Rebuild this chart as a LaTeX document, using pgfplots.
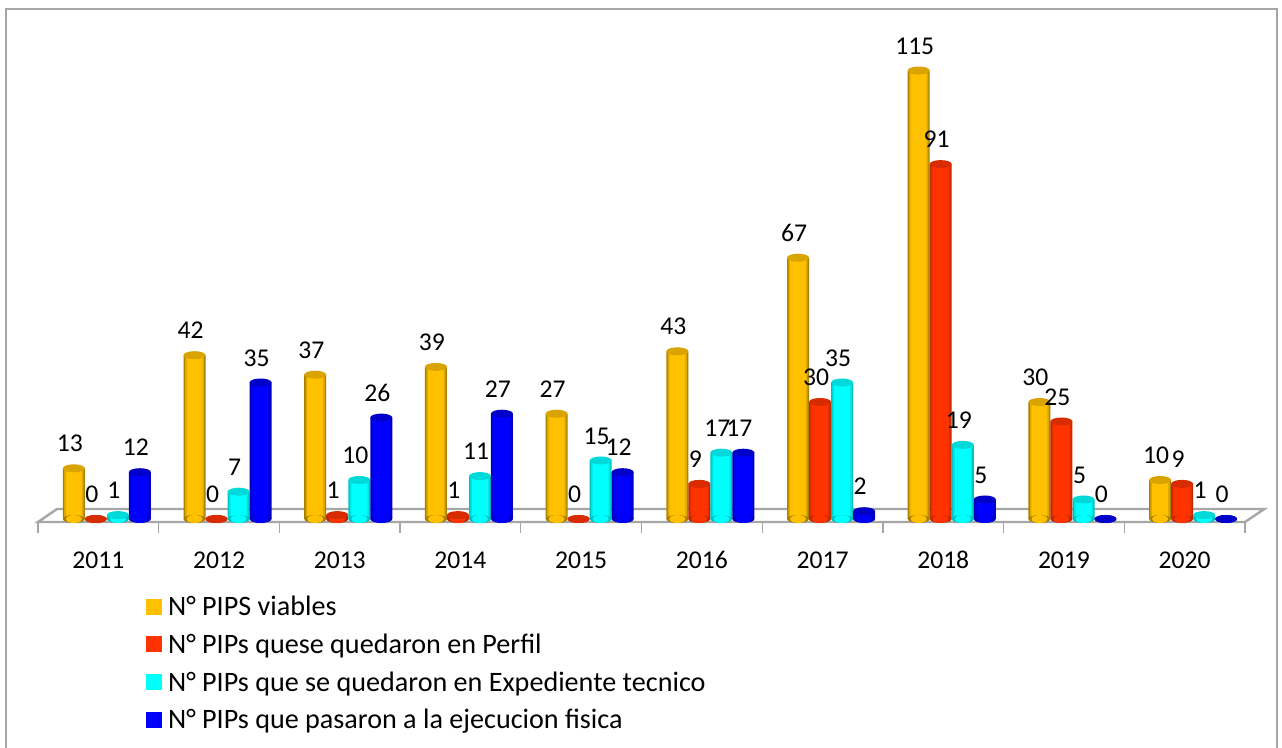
\documentclass[border=0pt]{standalone}
\usepackage{fontspec}
\setmainfont{Carlito}
\usepackage{pgfplots}
\usepackage{pgfplotstable}
\pgfplotsset{compat=1.18}
\definecolor{frameGray}{HTML}{A6A6A6}
\definecolor{mainGold}{HTML}{FFC000}
\definecolor{mainRed}{HTML}{FF3300}
\definecolor{mainCyan}{HTML}{00FFFF}
\definecolor{mainBlue}{HTML}{0000FF}
\definecolor{midGold}{HTML}{DDA600}
\definecolor{midRed}{HTML}{E62E00}
\definecolor{midCyan}{HTML}{00E4E4}
\definecolor{midBlue}{HTML}{0000E4}
\definecolor{edgeGold}{HTML}{A88000}
\definecolor{edgeRed}{HTML}{BC2A00}
\definecolor{edgeCyan}{HTML}{00C0C0}
\definecolor{edgeBlue}{HTML}{0000B8}
\definecolor{topGold}{HTML}{D9A300}
\definecolor{topRed}{HTML}{D92B00}
\definecolor{topCyan}{HTML}{00D9D9}
\definecolor{topBlue}{HTML}{0000C8}

\pgfdeclareplotmark{cyl}{\pgfpathellipse{\pgfpointorigin}{\pgfqpoint{8.25pt}{0pt}}{\pgfqpoint{0pt}{3pt}}\pgfusepathqfill}

\pgfplotstableread{
x viable perfil expediente ejecucion
0 13 0 1 12
1 42 0 7 35
2 37 1 10 26
3 39 1 11 27
4 27 0 15 12
5 43 9 17 17
6 67 30 35 2
7 115 91 19 5
8 30 25 5 0
9 10 9 1 0
}\pipsdata

% #1 column, #2 x offset, #3 colour suffix
\newcommand{\cylseries}[3]{%
  % rounded foot of the cylinder
  \addplot[forget plot, only marks, mark=cyl, mark options={fill=edge#3, draw=none}]
    table[x expr=\thisrow{x}+#2, y expr=0] {\pipsdata};
  \addplot[forget plot, only marks, mark=cyl, mark options={fill=main#3, draw=none, xscale=0.72}]
    table[x expr=\thisrow{x}+#2, y expr=0] {\pipsdata};
  % body: three nested bars give the dark edges
  \addplot[forget plot, ybar, bar width=16.5pt, bar shift=0pt, draw=none, fill=edge#3]
    table[x expr=\thisrow{x}+#2, y=#1] {\pipsdata};
  \addplot[forget plot, ybar, bar width=14.5pt, bar shift=0pt, draw=none, fill=mid#3]
    table[x expr=\thisrow{x}+#2, y=#1] {\pipsdata};
  \addplot[forget plot, ybar, bar width=12pt, bar shift=0pt, draw=none, fill=main#3]
    table[x expr=\thisrow{x}+#2, y=#1] {\pipsdata};
  % top of the cylinder and the value
  \addplot[forget plot, only marks, mark=cyl, mark options={fill=top#3, draw=none},
      nodes near coords,
      nodes near coords style={anchor=south, inner sep=0pt, xshift=-3pt, yshift=12pt, text=black}]
    table[x expr=\thisrow{x}+#2, y=#1] {\pipsdata};
}

\begin{document}
\begin{tikzpicture}
  \begin{axis}[
    scale only axis,
    width=905.25pt,
    height=391.5pt,
    xmin=-0.5, xmax=9.5,
    ymin=-0.77, ymax=133.08,
    clip=false,
    axis y line=none,
    axis x line*=bottom,
    x axis line style={draw=none},
    xtick={0,...,9},
    xticklabels={2011,2012,2013,2014,2015,2016,2017,2018,2019,2020},
    minor xtick={-0.5,0.5,...,9.5},
    major tick length=0pt,
    minor tick length=8pt,
    tick align=outside,
    minor tick style={frameGray, line width=1pt},
    xticklabel style={yshift=-19pt, text height=12.5pt, text depth=0pt},
    /pgf/number format/assume math mode=true,
    every node near coord/.append style={font=\fontsize{19.2pt}{23pt}\selectfont},
    tick label style={font=\fontsize{19.2pt}{23pt}\selectfont},
    legend style={
      at={(axis cs:-0.5,-20)}, anchor=north west,
      xshift=78pt, yshift=5pt,
      draw=none, fill=none,
      font=\fontsize{21.1pt}{25pt}\selectfont,
      row sep=8.2pt,
    },
    legend cell align=left,
    legend image code/.code={\fill[#1, draw=none] (0pt,-6pt) rectangle (12pt,6pt);
      \path (14.2pt,0pt);},
  ]
    \addlegendimage{fill=mainGold}\addlegendentry{N° PIPS viables}
    \addlegendimage{fill=mainRed}\addlegendentry{N° PIPs quese quedaron en Perfil}
    \addlegendimage{fill=mainCyan}\addlegendentry{N° PIPs que se quedaron en Expediente tecnico}
    \addlegendimage{fill=mainBlue}\addlegendentry{N° PIPs que pasaron a la ejecucion fisica}

    % floor of the 3D plot
    \draw[frameGray, line width=1.8pt, line join=miter]
      (axis cs:-0.5,-0.77) -- (axis cs:-0.343,2.56) -- (axis cs:9.66,2.56)
      -- (axis cs:9.5,-0.77) -- cycle;

    \cylseries{viable}{-0.203}{Gold}
    \cylseries{perfil}{-0.021}{Red}
    \cylseries{expediente}{0.162}{Cyan}
    \cylseries{ejecucion}{0.344}{Blue}
  \end{axis}
  \begin{scope}[x=0.75pt, y=-0.75pt, shift={(-28.5pt,391.5pt)}]
    \draw[frameGray, line width=1.5pt] (6,748) -- (6,9) -- (1277,9) -- (1277,748);
    \pgfresetboundingbox
    \path (0,0) rectangle (1282,748);
  \end{scope}
\end{tikzpicture}
\end{document}
